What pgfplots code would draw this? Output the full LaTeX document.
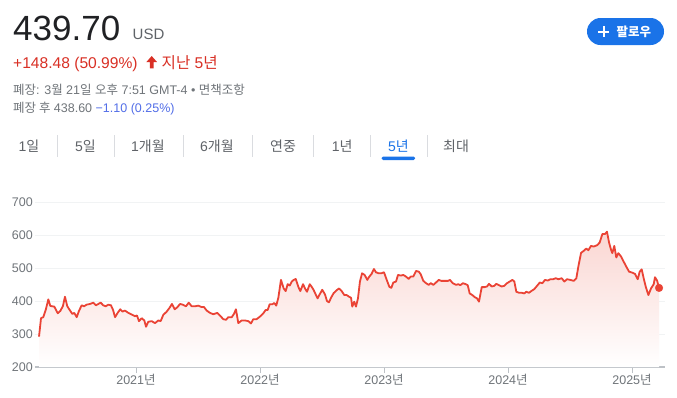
\documentclass[border=0pt]{standalone}
\usepackage{pgfplots}
\pgfplotsset{compat=1.18}
\usepackage{pgfplotstable}
\usepackage{fontspec}
\setmainfont{Liberation Sans}
\newfontfamily\kr{Noto Sans CJK KR}
\definecolor{dark}{HTML}{202124}
\definecolor{midgray}{HTML}{5F6368}
\definecolor{txtgray}{HTML}{70757A}
\definecolor{redtxt}{HTML}{D93025}
\definecolor{linered}{RGB}{234,67,53}
\definecolor{fillred}{RGB}{250,214,210}
\definecolor{gblue}{HTML}{1A73E8}
\definecolor{ahblue}{RGB}{82,110,232}
\definecolor{sepgray}{HTML}{DADCE0}
\definecolor{gridgray}{HTML}{F1F3F4}
\definecolor{axisgray}{HTML}{BDC1C6}

\pgfplotstableread{
x y
2020.218 292
2020.234 348
2020.252 351
2020.272 373
2020.293 405
2020.309 385
2020.325 384
2020.341 383
2020.369 363
2020.390 370
2020.411 385
2020.427 413
2020.446 384
2020.465 373
2020.486 361
2020.502 364
2020.522 351
2020.540 370
2020.562 387
2020.581 384
2020.602 389
2020.629 391
2020.656 395
2020.677 387
2020.696 391
2020.715 395
2020.736 387
2020.756 384
2020.777 389
2020.798 387
2020.815 373
2020.831 351
2020.852 364
2020.873 375
2020.890 368
2020.911 371
2020.938 364
2020.965 359
2020.992 354
2021.008 356
2021.024 339
2021.046 348
2021.067 341
2021.081 322
2021.099 337
2021.127 339
2021.153 333
2021.180 341
2021.199 339
2021.220 358
2021.248 368
2021.268 378
2021.290 391
2021.312 375
2021.333 381
2021.355 391
2021.377 389
2021.403 384
2021.425 395
2021.449 384
2021.476 384
2021.502 386
2021.527 382
2021.548 382
2021.570 371
2021.597 364
2021.623 360
2021.656 364
2021.677 356
2021.704 345
2021.726 343
2021.744 351
2021.772 351
2021.790 361
2021.806 375
2021.825 333
2021.852 341
2021.879 341
2021.906 339
2021.927 332
2021.946 345
2021.973 345
2022.000 353
2022.027 363
2022.046 373
2022.062 373
2022.078 390
2022.099 390
2022.115 394
2022.131 386
2022.148 410
2022.169 464
2022.191 438
2022.207 430
2022.223 451
2022.240 447
2022.256 459
2022.272 464
2022.288 467
2022.309 443
2022.325 430
2022.347 451
2022.363 438
2022.379 428
2022.401 451
2022.417 443
2022.433 433
2022.449 420
2022.465 408
2022.481 420
2022.502 434
2022.524 420
2022.540 400
2022.556 396
2022.573 410
2022.594 424
2022.619 433
2022.637 438
2022.659 430
2022.680 418
2022.699 418
2022.718 413
2022.734 410
2022.744 383
2022.760 398
2022.774 383
2022.790 408
2022.806 459
2022.823 484
2022.844 479
2022.865 464
2022.881 474
2022.898 481
2022.919 497
2022.935 487
2022.957 484
2022.978 484
2023.000 487
2023.022 464
2023.043 443
2023.059 440
2023.075 456
2023.097 459
2023.113 479
2023.135 477
2023.156 479
2023.177 474
2023.199 467
2023.215 474
2023.236 474
2023.258 491
2023.280 489
2023.296 481
2023.317 461
2023.339 454
2023.360 449
2023.377 454
2023.398 449
2023.419 456
2023.441 464
2023.462 461
2023.490 461
2023.516 461
2023.532 464
2023.554 454
2023.581 449
2023.599 451
2023.615 448
2023.637 454
2023.659 451
2023.675 448
2023.691 423
2023.712 418
2023.734 411
2023.750 408
2023.766 398
2023.788 442
2023.809 442
2023.831 444
2023.847 452
2023.869 444
2023.890 446
2023.906 452
2023.927 448
2023.949 444
2023.970 446
2023.992 454
2024.014 459
2024.035 464
2024.051 459
2024.067 428
2024.089 425
2024.110 425
2024.131 423
2024.147 428
2024.169 425
2024.191 431
2024.212 436
2024.234 446
2024.256 456
2024.277 454
2024.298 464
2024.320 462
2024.341 466
2024.363 466
2024.385 469
2024.406 466
2024.433 469
2024.454 459
2024.476 466
2024.502 464
2024.530 461
2024.551 469
2024.567 504
2024.589 546
2024.611 552
2024.631 559
2024.648 554
2024.669 567
2024.691 565
2024.718 569
2024.739 577
2024.761 603
2024.782 603
2024.798 610
2024.815 577
2024.831 555
2024.841 545
2024.857 567
2024.873 532
2024.890 545
2024.911 535
2024.933 519
2024.954 504
2024.976 489
2025.002 486
2025.024 482
2025.046 466
2025.062 489
2025.078 496
2025.094 469
2025.111 443
2025.132 418
2025.153 438
2025.175 451
2025.185 472
2025.202 462
2025.218 439.7
}\pricedata

\begin{document}
\begin{tikzpicture}
\path[use as bounding box] (0,0) rectangle (677pt,-397pt);
\fill[white] (0,0) rectangle (677pt,-397pt);

% header
\node[anchor=base west, inner sep=0pt, text=dark, font=\fontsize{35}{40}\selectfont] at (13pt,-40pt) {439.70};
\node[anchor=base west, inner sep=0pt, text=midgray, font=\fontsize{15}{18}\selectfont] at (132.5pt,-39pt) {USD};
\node[anchor=base west, inner sep=0pt, text=redtxt, font=\fontsize{15.6}{18}\selectfont] at (13pt,-68.3pt) {+148.48 (50.99\%)};
\fill[redtxt] (151.7pt,-56pt) -- (157pt,-62pt) -- (153.5pt,-62pt) -- (153.5pt,-68.3pt) -- (149.9pt,-68.3pt) -- (149.9pt,-62pt) -- (146.4pt,-62pt) -- cycle;
\node[anchor=base west, inner sep=0pt, text=redtxt, font=\fontsize{15.6}{18}\selectfont] at (161.5pt,-68.3pt) {{\kr 지난} 5{\kr 년}};
\node[anchor=base west, inner sep=0pt, text=txtgray, font=\fontsize{12.5}{15}\selectfont] at (13pt,-94pt) {{\kr 폐장}: 3{\kr 월} 21{\kr 일} {\kr 오후} 7:51 GMT-4 • {\kr 면책조항}};
\node[anchor=base west, inner sep=0pt, text=txtgray, font=\fontsize{12.5}{15}\selectfont] at (13pt,-112.7pt) {{\kr 폐장 후} 438.60 \textcolor{ahblue}{−1.10 (0.25\%)}};

% follow button
\fill[gblue, rounded corners=13.5pt] (587pt,-18pt) rectangle (664pt,-45pt);
\draw[white, line width=2pt] (598pt,-31.5pt) -- (609pt,-31.5pt);
\draw[white, line width=2pt] (603.5pt,-26pt) -- (603.5pt,-37pt);
\node[anchor=base west, inner sep=0pt, text=white, font=\fontsize{12.5}{15}\selectfont] at (616.5pt,-36pt) {\kr\bfseries 팔로우};

% tabs
\foreach \xx/\lab in {18.3/1{\kr 일}, 75/5{\kr 일}, 131/1{\kr 개월}, 200/6{\kr 개월}, 270/{\kr 연중}, 331.7/1{\kr 년}, 443/{\kr 최대}}{
  \node[anchor=base west, inner sep=0pt, text=midgray, font=\fontsize{14}{16}\selectfont] at (\xx pt,-151.5pt) {\lab};
}
\node[anchor=base west, inner sep=0pt, text=gblue, font=\fontsize{14}{16}\selectfont] at (388pt,-151.5pt) {5{\kr 년}};
\foreach \xx in {57.3,114.3,183.3,252.3,313.3,370,427.3}{
  \draw[sepgray, line width=1pt] (\xx pt,-135pt) -- (\xx pt,-156.7pt);
}
\fill[gblue, rounded corners=1.5pt] (381.7pt,-160pt) rectangle (415pt,-156.5pt);

% chart
\begin{axis}[
  at={(35pt,-367pt)}, anchor=south west,
  scale only axis, width=630pt, height=165pt,
  xmin=2020.1855, xmax=2025.266, ymin=200, ymax=700,
  axis x line*=bottom, axis y line*=left,
  x axis line style={draw=axisgray, line width=2pt, -},
  y axis line style={draw=none},
  xtick={2021,2022,2023,2024,2025},
  xticklabels={2021{\kr 년},2022{\kr 년},2023{\kr 년},2024{\kr 년},2025{\kr 년}},
  ytick={200,300,400,500,600,700},
  tick align=outside, major tick length=6pt,
  xtick style={draw=axisgray, line width=1pt},
  ytick style={draw=none},
  ymajorgrids, major grid style={draw=gridgray, line width=1pt},
  /pgf/number format/assume math mode=true,
  tick label style={font=\fontsize{12.5}{14}\selectfont, text=txtgray},
  yticklabel style={inner sep=0pt, xshift=4pt},
  xticklabel style={inner sep=0pt, yshift=-1pt},
  clip=false,
]
\addplot[draw=none, top color=fillred, bottom color=white] table {\pricedata} \closedcycle;
\addplot[linered, line width=1.8pt, line join=round] table {\pricedata};
\addplot[only marks, mark=*, mark size=3.8pt, color=linered] coordinates {(2025.218,439.7)};
\end{axis}
\end{tikzpicture}
\end{document}
